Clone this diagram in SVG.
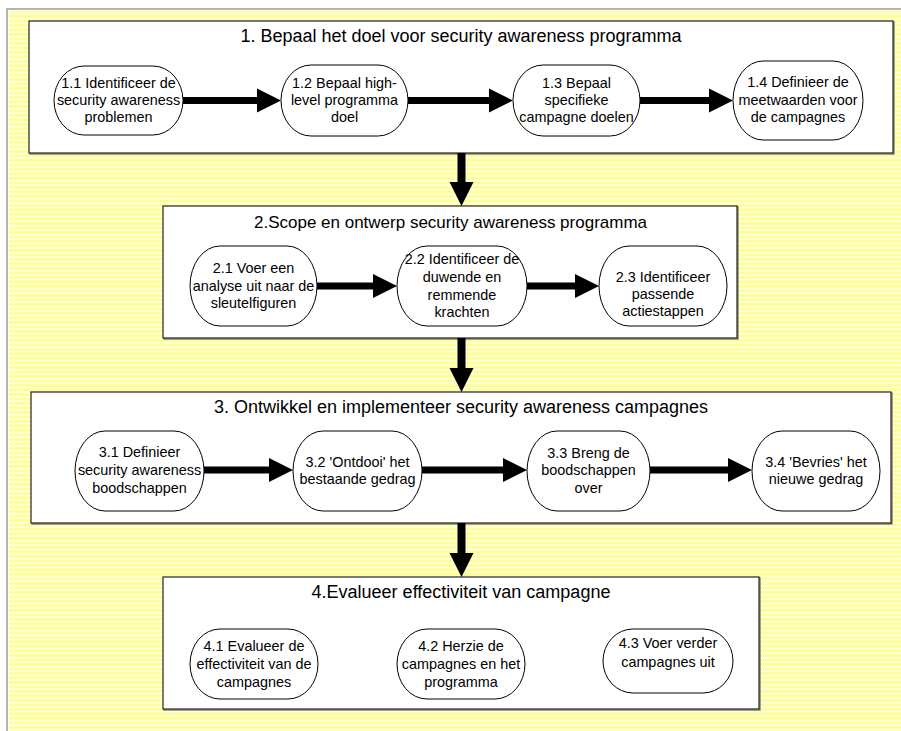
<svg xmlns="http://www.w3.org/2000/svg" width="901" height="731" viewBox="0 0 901 731">
<defs>
<pattern id="stripes" width="10" height="9" patternUnits="userSpaceOnUse">
<rect width="10" height="9" fill="#ffff99"/>
<rect y="0" width="10" height="1.2" fill="#ffffff"/>
<rect y="4.5" width="10" height="1.2" fill="#ffffff"/>
</pattern>
</defs>
<style>
.box{fill:#ffffff;stroke:#222;stroke-width:1.2}
.shadow{fill:none;stroke:#666;stroke-width:1.2}
.node{fill:#ffffff;stroke:#000;stroke-width:1}
.title{font-family:"Liberation Sans",Arial,sans-serif;font-size:18px;fill:#000;text-anchor:middle}
.lbl{font-family:"Liberation Sans",Arial,sans-serif;font-size:14.4px;fill:#000;text-anchor:middle}
.arrow{fill:#000;stroke:none}
</style>
<rect width="901" height="731" fill="#ffffff"/>
<rect x="9" y="11" width="892" height="720" fill="url(#stripes)"/>
<rect x="6" y="8" width="2" height="723" fill="#b4b4b4"/>
<rect x="6" y="8" width="895" height="2" fill="#b4b4b4"/>

<g id="phase1">
<rect class="shadow" x="30" y="22" width="864" height="132"/>
<rect class="box" x="29" y="21" width="864" height="132"/>
<text class="title" x="461" y="42">1. Bepaal het doel voor security awareness programma</text>
</g>
<g id="phase2">
<rect class="shadow" x="164" y="207" width="574" height="132"/>
<rect class="box" x="163" y="206" width="574" height="132"/>
<text class="title" x="450.5" y="228" style="font-size:17px">2.Scope en ontwerp security awareness programma</text>
</g>
<g id="phase3">
<rect class="shadow" x="32" y="393" width="860" height="131"/>
<rect class="box" x="31" y="392" width="860" height="131"/>
<text class="title" x="461" y="413">3. Ontwikkel en implementeer security awareness campagnes</text>
</g>
<g id="phase4">
<rect class="shadow" x="164" y="578" width="596" height="132"/>
<rect class="box" x="163" y="577" width="596" height="132"/>
<text class="title" x="461" y="598">4.Evalueer effectiviteit van campagne</text>
</g>

<g id="n11">
<rect class="node" x="54" y="66" width="129" height="69" rx="30" ry="34.5"/>
<text class="lbl" x="118.5" y="88">1.1 Identificeer de</text>
<text class="lbl" x="118.5" y="105">security awareness</text>
<text class="lbl" x="118.5" y="122">problemen</text>
</g>
<g id="n12">
<rect class="node" x="281" y="65" width="127" height="71" rx="30" ry="35.5"/>
<text class="lbl" x="344.5" y="88">1.2 Bepaal high-</text>
<text class="lbl" x="344.5" y="105">level programma</text>
<text class="lbl" x="344.5" y="122">doel</text>
</g>
<g id="n13">
<rect class="node" x="513" y="65" width="127" height="71" rx="30" ry="35.5"/>
<text class="lbl" x="576.5" y="88">1.3 Bepaal</text>
<text class="lbl" x="576.5" y="105">specifieke</text>
<text class="lbl" x="576.5" y="122">campagne doelen</text>
</g>
<g id="n14">
<rect class="node" x="733" y="61" width="130" height="79" rx="30" ry="39.5"/>
<text class="lbl" x="798" y="87">1.4 Definieer de</text>
<text class="lbl" x="798" y="105">meetwaarden voor</text>
<text class="lbl" x="798" y="122">de campagnes</text>
</g>

<g id="n21">
<rect class="node" x="190" y="246" width="127" height="80" rx="30" ry="40"/>
<text class="lbl" x="253.5" y="273">2.1 Voer een</text>
<text class="lbl" x="253.5" y="291">analyse uit naar de</text>
<text class="lbl" x="253.5" y="308">sleutelfiguren</text>
</g>
<g id="n22">
<rect class="node" x="397" y="246" width="130" height="80" rx="30" ry="40"/>
<text class="lbl" x="462" y="264">2.2 Identificeer de</text>
<text class="lbl" x="462" y="282">duwende en</text>
<text class="lbl" x="462" y="300">remmende</text>
<text class="lbl" x="462" y="317">krachten</text>
</g>
<g id="n23">
<rect class="node" x="599" y="246" width="128" height="80" rx="30" ry="40"/>
<text class="lbl" x="663" y="282">2.3 Identificeer</text>
<text class="lbl" x="663" y="299">passende</text>
<text class="lbl" x="663" y="316">actiestappen</text>
</g>

<g id="n31">
<rect class="node" x="75" y="431" width="129" height="80" rx="30" ry="40"/>
<text class="lbl" x="139.5" y="457">3.1 Definieer</text>
<text class="lbl" x="139.5" y="475">security awareness</text>
<text class="lbl" x="139.5" y="493">boodschappen</text>
</g>
<g id="n32">
<rect class="node" x="293" y="431" width="129" height="80" rx="30" ry="40"/>
<text class="lbl" x="357.5" y="467">3.2 'Ontdooi' het</text>
<text class="lbl" x="357.5" y="484">bestaande gedrag</text>
</g>
<g id="n33">
<rect class="node" x="527" y="431" width="123" height="80" rx="30" ry="40"/>
<text class="lbl" x="588.5" y="458">3.3 Breng de</text>
<text class="lbl" x="588.5" y="475">boodschappen</text>
<text class="lbl" x="588.5" y="493">over</text>
</g>
<g id="n34">
<rect class="node" x="752" y="431" width="128" height="80" rx="30" ry="40"/>
<text class="lbl" x="816" y="467">3.4 'Bevries' het</text>
<text class="lbl" x="816" y="484">nieuwe gedrag</text>
</g>

<g id="n41">
<rect class="node" x="190" y="629" width="128" height="70" rx="30" ry="35"/>
<text class="lbl" x="254" y="651">4.1 Evalueer de</text>
<text class="lbl" x="254" y="669">effectiviteit van de</text>
<text class="lbl" x="254" y="687">campagnes</text>
</g>
<g id="n42">
<rect class="node" x="397" y="629" width="128" height="70" rx="30" ry="35"/>
<text class="lbl" x="461" y="651">4.2 Herzie de</text>
<text class="lbl" x="461" y="669">campagnes en het</text>
<text class="lbl" x="461" y="687">programma</text>
</g>
<g id="n43">
<rect class="node" x="603" y="629" width="130" height="64" rx="30" ry="32"/>
<text class="lbl" x="668" y="648">4.3 Voer verder</text>
<text class="lbl" x="668" y="667">campagnes uit</text>
</g>

<g id="connectors" class="arrow">
<path d="M183 97 H257 V88.5 L281 100.5 L257 112.5 V104 H183 Z"/>
<path d="M408 97 H489 V88.5 L513 100.5 L489 112.5 V104 H408 Z"/>
<path d="M640 97 H709 V88.5 L733 100.5 L709 112.5 V104 H640 Z"/>
<path d="M317 282.5 H373 V274 L397 286 L373 298 V289.5 H317 Z"/>
<path d="M527 282.5 H575 V274 L599 286 L575 298 V289.5 H527 Z"/>
<path d="M204 466.5 H269 V458 L293 470 L269 482 V473.5 H204 Z"/>
<path d="M422 466.5 H503 V458 L527 470 L503 482 V473.5 H422 Z"/>
<path d="M650 466.5 H728 V458 L752 470 L728 482 V473.5 H650 Z"/>
<path d="M457.5 153 V182 H449.5 L461.5 206 L473.5 182 H465.5 V153 Z"/>
<path d="M457.5 338 V368 H449.5 L461.5 392 L473.5 368 H465.5 V338 Z"/>
<path d="M457.5 523 V553 H449.5 L461.5 577 L473.5 553 H465.5 V523 Z"/>
</g>
</svg>
